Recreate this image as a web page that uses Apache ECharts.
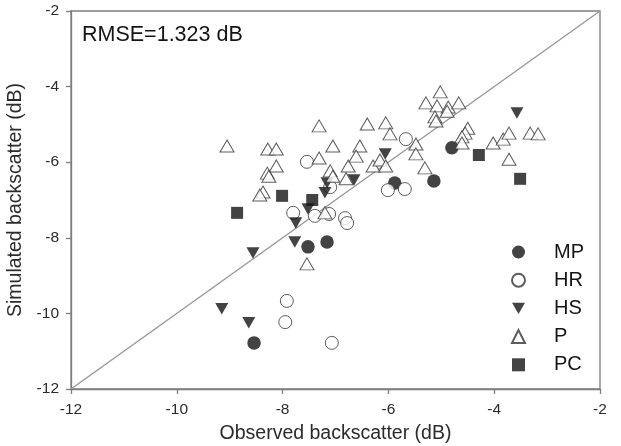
<!DOCTYPE html>
<html>
<head>
<meta charset="utf-8">
<script src="https://cdn.jsdelivr.net/npm/echarts@6/dist/echarts.min.js"></script>
<style>
  html, body { margin: 0; padding: 0; background: #fff; }
  #chart { width: 621px; height: 446px; }
</style>
</head>
<body>
<div id="chart"></div>
<script>
// Observed vs simulated backscatter (dB), one array per land-cover class: [observed, simulated]
const MP = [[-8.54,-10.78],[-7.52,-8.24],[-7.16,-8.11],[-5.88,-6.55],[-5.14,-6.50],[-4.80,-5.62]];
const HR = [[-7.54,-5.99],[-7.80,-7.34],[-7.39,-7.42],[-7.10,-6.66],[-7.12,-7.37],[-6.82,-7.48],
            [-6.78,-7.61],[-6.01,-6.74],[-5.69,-6.71],[-5.67,-5.39],[-7.92,-9.67],[-7.95,-10.23],[-7.07,-10.78]];
const HS = [[-9.15,-9.88],[-8.64,-10.25],[-8.56,-8.40],[-7.77,-8.11],[-7.75,-7.61],[-7.52,-7.24],
            [-7.20,-6.81],[-7.16,-6.55],[-6.65,-6.47],[-6.06,-5.78],[-3.57,-4.70]];
const P = [[-9.05,-5.57],[-8.28,-5.65],[-8.12,-5.65],[-8.12,-6.10],[-8.29,-6.29],[-8.26,-6.37],
           [-8.37,-6.79],[-8.43,-6.87],[-7.31,-5.04],[-7.31,-5.89],[-7.05,-5.57],[-7.10,-6.23],
           [-7.05,-6.37],[-7.54,-8.69],[-7.20,-7.34],[-6.76,-6.10],[-6.80,-6.44],[-6.54,-5.57],
           [-6.61,-5.84],[-6.40,-4.99],[-6.29,-6.10],[-6.16,-5.94],[-6.05,-6.10],[-6.05,-4.96],
           [-5.97,-5.25],[-5.48,-5.52],[-5.48,-5.78],[-5.31,-6.15],[-5.29,-4.43],[-5.02,-4.14],
           [-5.08,-4.51],[-4.87,-4.54],[-4.89,-4.65],[-4.67,-4.43],[-5.12,-4.80],[-5.10,-4.91],
           [-4.50,-5.10],[-4.55,-5.23],[-4.61,-5.33],[-4.61,-5.49],[-4.02,-5.49],[-3.83,-5.39],
           [-3.72,-5.23],[-3.32,-5.23],[-3.17,-5.25],[-3.72,-5.92]];
const PC = [[-8.86,-7.34],[-8.01,-6.89],[-7.44,-7.00],[-4.29,-5.81],[-3.51,-6.44]];
const oneToOne = [[-12,-12],[-2,-2]];
const axisTicks = [-12, -10, -8, -6, -4, -2];
const classNames = ['MP', 'HR', 'HS', 'P', 'PC'];
const rmseText = 'RMSE=1.323 dB';

const FONT = '"Liberation Sans", Arial, sans-serif';
const INK = '#141414';
const AXIS = '#7d7d7d';
const DOWN_TRIANGLE = 'path://M0,0L2,0L1,1.73Z';

const axisCommon = {
  min: axisTicks[0],
  max: axisTicks[axisTicks.length - 1],
  interval: 2,
  nameLocation: 'middle',
  nameTextStyle: { fontFamily: FONT, fontSize: 19.5, color: '#2b2b2b' },
  axisLine: { show: true, lineStyle: { color: AXIS, width: 1.3 } },
  axisTick: { show: true, inside: false, length: 5, lineStyle: { color: AXIS, width: 1.3 } },
  axisLabel: { fontFamily: FONT, fontSize: 15.5, color: '#2b2b2b' },
  splitLine: { show: false }
};

const chart = echarts.init(document.getElementById('chart'), null, { renderer: 'canvas' });
chart.setOption({
  animation: false,
  backgroundColor: '#fff',
  title: {
    text: rmseText,
    left: 77, top: 19,
    textStyle: { fontFamily: FONT, fontSize: 21.5, fontWeight: 'normal', color: INK }
  },
  grid: {
    left: 71, right: 21, top: 11, bottom: 57,
    outerBoundsMode: 'none',
    show: true, borderColor: AXIS, borderWidth: 1.3
  },
  xAxis: Object.assign({}, axisCommon, {
    type: 'value', name: 'Observed backscatter (dB)', nameGap: 35,
    axisLabel: Object.assign({}, axisCommon.axisLabel, { margin: 13 })
  }),
  yAxis: Object.assign({}, axisCommon, {
    type: 'value', name: 'Simulated backscatter (dB)', nameGap: 42,
    axisLabel: Object.assign({}, axisCommon.axisLabel, { margin: 12 })
  }),
  legend: {
    data: classNames.map(n => n === 'HS' ? { name: n, icon: DOWN_TRIANGLE } : n),
    orient: 'vertical',
    left: 506, top: 237,
    itemWidth: 13, itemHeight: 13, itemGap: 8.2,
    textStyle: { fontFamily: FONT, fontSize: 20, color: INK, padding: [0, 0, 0, 24], lineHeight: 20 }
  },
  series: [
    {
      name: '1:1', type: 'line', data: oneToOne, showSymbol: false, silent: true,
      lineStyle: { color: '#9a9a9a', width: 1.5 }, z: 1
    },
    {
      name: 'MP', type: 'scatter', data: MP, symbol: 'circle', symbolSize: 13.5,
      itemStyle: { color: INK }
    },
    {
      name: 'HR', type: 'scatter', data: HR, symbol: 'circle', symbolSize: 13,
      itemStyle: { color: '#fff', borderColor: '#333', borderWidth: 1 }
    },
    {
      name: 'HS', type: 'scatter', data: HS, symbol: DOWN_TRIANGLE, symbolSize: [13, 11.5],
      itemStyle: { color: INK }
    },
    {
      name: 'P', type: 'scatter', data: P, symbol: 'triangle', symbolSize: [14, 12],
      itemStyle: { color: '#fff', borderColor: '#333', borderWidth: 1 }
    },
    {
      name: 'PC', type: 'scatter', data: PC, symbol: 'rect', symbolSize: 12,
      itemStyle: { color: INK }
    }
  ]
});
</script>
</body>
</html>
